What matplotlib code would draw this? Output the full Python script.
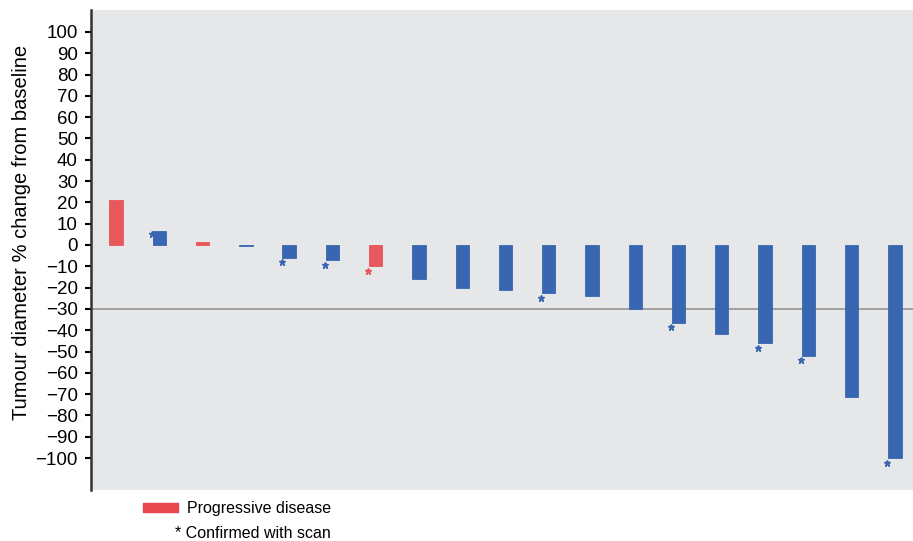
import matplotlib.pyplot as plt
import numpy as np

plt.rcParams['font.family'] = ['Liberation Sans', 'DejaVu Sans']

# percentage change from baseline per patient, ordered as in the waterfall
changes = [21, 6.5, 1.2, -0.5, -6, -7, -10, -15.8, -20, -21,
           -22.5, -24, -30, -36.5, -42, -46, -52, -71.5, -100]
progressive = [True, False, True, False, False, False, True, False, False, False,
               False, False, False, False, False, False, False, False, False]
confirmed = [False, True, False, False, True, True, True, False, False, False,
             True, False, False, True, False, True, True, False, True]
y_ticks = list(range(-100, 101, 10))

red = '#e8575b'
blue = '#3866b0'

fig = plt.figure(figsize=(9.13, 5.41), dpi=100)
ax = fig.add_axes([0.0997, 0.0943, 0.9003, 0.8872])
ax.set_facecolor('#e6e7e8')

x = np.arange(len(changes))
colors = [red if p else blue for p in progressive]
ax.bar(x, changes, width=0.31, color=colors, edgecolor=colors, linewidth=0.6, zorder=2)

# asterisks for scan-confirmed responses, just left of the bar tip
for xi, v, c, col in zip(x, changes, confirmed, colors):
    if not c:
        continue
    if v > 0:
        ax.plot(xi - 0.17, v - 1.5, marker='*', ms=5, color=col, zorder=3, lw=0)
    else:
        ax.plot(xi - 0.17, v - 2.2, marker='*', ms=5, color=col, zorder=3, lw=0)

ax.axhline(-30, color='#8c8c8c', lw=1.1, zorder=1)

ax.set_xlim(-0.58, len(changes) - 0.58)
ax.set_ylim(-115, 110.3)
ax.set_yticks(y_ticks)
ax.tick_params(axis='y', labelsize=13.5, length=4.5, width=1.5, direction='out', pad=5)
ax.set_xticks([])
for s in ['top', 'right', 'bottom']:
    ax.spines[s].set_visible(False)
ax.spines['left'].set_linewidth(1.8)
ax.spines['left'].set_color('#333333')
ax.set_ylabel('Tumour diameter % change from baseline', fontsize=14.5)
ax.yaxis.set_label_coords(-0.073, 0.5375)

# legend below the plot
fig.patches.append(plt.Rectangle((143 / 913, 1 - 512 / 541), 35 / 913, 9 / 541,
                                 transform=fig.transFigure, color='#e8474f'))
fig.text(187 / 913, 1 - 508 / 541, 'Progressive disease', fontsize=11.5, va='center')
fig.text(175 / 913, 1 - 534 / 541, '* Confirmed with scan', fontsize=11.5, va='center')

fig.savefig('out.png', dpi=100)
